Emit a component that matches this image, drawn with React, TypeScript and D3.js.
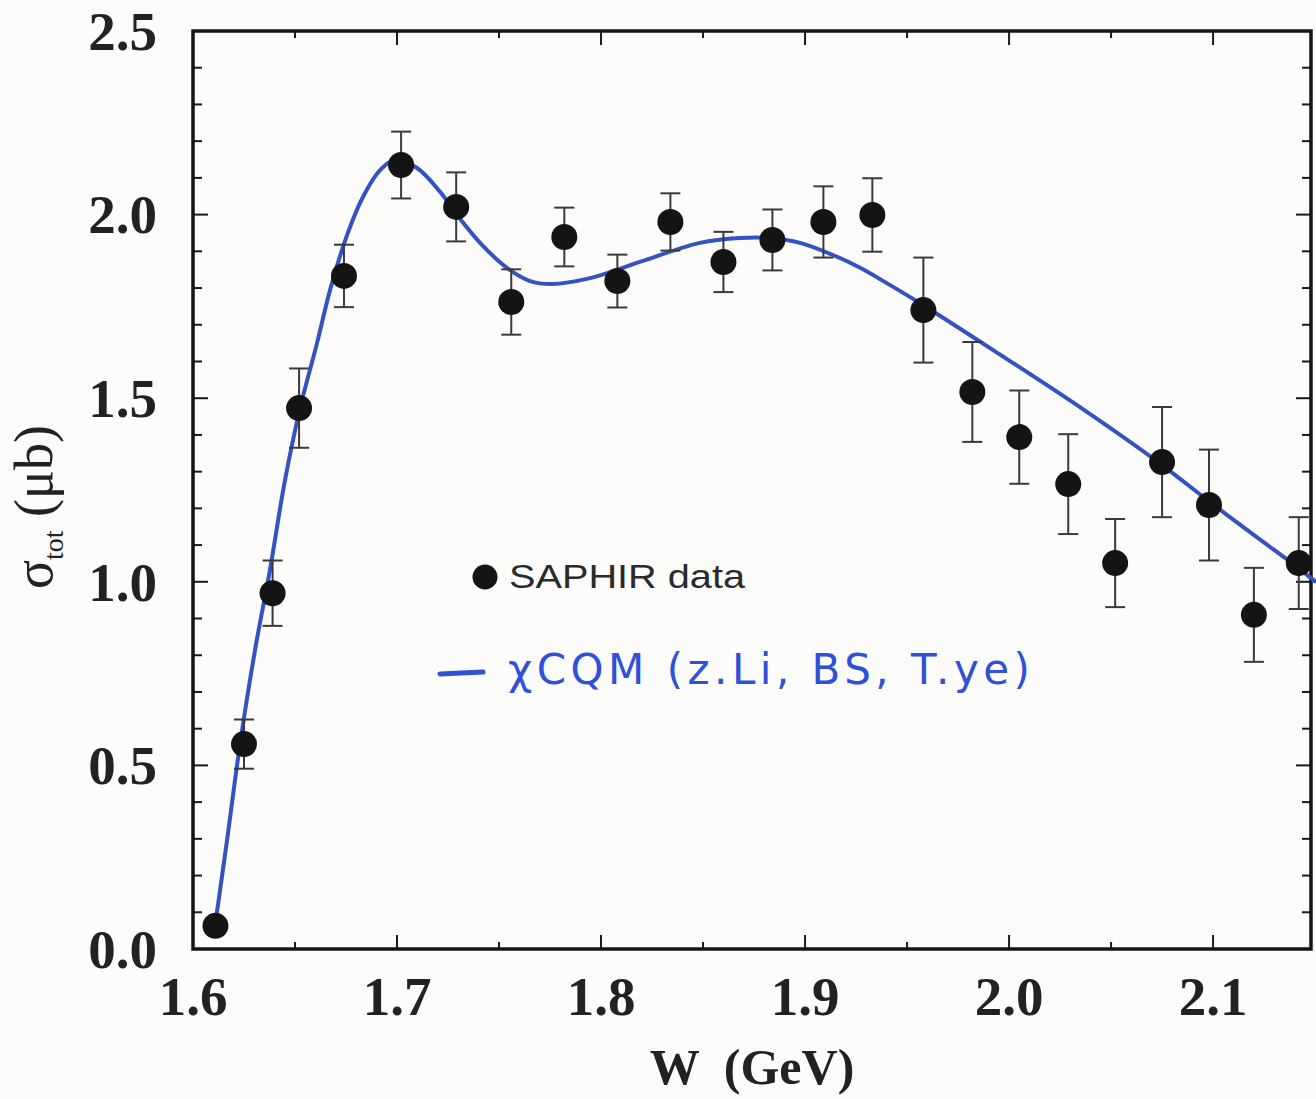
import { useRef, useEffect } from "react";
import * as d3 from "d3";

const WIDTH = 1316;
const HEIGHT = 1099;
const SERIF = "'Liberation Serif', 'Times New Roman', serif";
const SANS = "'Liberation Sans', Arial, sans-serif";
const CURVE_COLOR = "#3552c2";
const INK_COLOR = "#2f50d8";

// SAPHIR measurements: W (GeV), sigma_tot (mub), symmetric error
const W_DATA = [
  1.611, 1.625, 1.639, 1.652, 1.674, 1.702, 1.729, 1.756, 1.782, 1.808, 1.834, 1.86,
  1.884, 1.909, 1.933, 1.958, 1.982, 2.005, 2.029, 2.052, 2.075, 2.098, 2.12, 2.142,
];
const SIGMA = [
  0.063, 0.558, 0.969, 1.473, 1.833, 2.135, 2.021, 1.762, 1.939, 1.819, 1.98, 1.871,
  1.931, 1.98, 1.999, 1.74, 1.517, 1.394, 1.266, 1.051, 1.326, 1.209, 0.91, 1.051,
];
const SIGMA_ERR = [
  0.02, 0.067, 0.089, 0.108, 0.085, 0.091, 0.094, 0.089, 0.08, 0.072, 0.078, 0.082,
  0.083, 0.097, 0.1, 0.143, 0.136, 0.127, 0.136, 0.12, 0.15, 0.151, 0.128, 0.125,
];

// model curve (XCQM)
const CURVE_W = [
  1.6108, 1.6167, 1.623, 1.6304, 1.6377, 1.6451, 1.6525, 1.6608, 1.6672, 1.6755, 1.6833,
  1.6917, 1.699, 1.7098, 1.7211, 1.7294, 1.7407, 1.7539, 1.7652, 1.776, 1.7946, 1.8191,
  1.8485, 1.8681, 1.8828, 1.8975, 1.9137, 1.927, 1.9417, 1.9578, 1.9922, 2.0333, 2.075,
  2.0971, 2.1201, 2.1417, 2.1505,
];
const CURVE_SIGMA = [
  0.063, 0.297, 0.556, 0.814, 1.032, 1.277, 1.473, 1.65, 1.795, 1.944, 2.048,
  2.121, 2.149, 2.127, 2.062, 1.999, 1.923, 1.855, 1.819, 1.811, 1.827, 1.871,
  1.923, 1.936, 1.936, 1.923, 1.89, 1.855, 1.808, 1.754, 1.631, 1.481, 1.318,
  1.223, 1.127, 1.038, 0.999,
];

const X_TICKS = [1.6, 1.7, 1.8, 1.9, 2.0, 2.1];
const Y_TICKS = [0, 0.5, 1.0, 1.5, 2.0, 2.5];

export default function App() {
  const svgRef = useRef<SVGSVGElement>(null);

  useEffect(() => {
    const svg = svgRef.current;
    if (!svg) return;
    const root = d3.select(svg);
    root.selectAll("*").remove();

    const left = 193, right = 1311, top = 31, bottom = 949;
    const x = d3.scaleLinear().domain([1.6, 2.148]).range([left, right]);
    const y = d3.scaleLinear().domain([0, 2.5]).range([bottom, top]);

    root.append("rect").attr("width", WIDTH).attr("height", HEIGHT).attr("fill", "#fcfcfa");

    // frame ticks (inward), minor every 0.05 on x, 0.1 on y
    const ticks = root.append("g").attr("stroke", "#1a1a1a").attr("stroke-width", 2);
    const xMinor = d3.range(1.65, 2.148, 0.05);
    for (const t of xMinor) {
      const major = Math.abs(Math.round(t * 10) - t * 10) < 1e-6;
      const len = major ? 14 : 7;
      ticks.append("line").attr("x1", x(t)).attr("x2", x(t)).attr("y1", bottom).attr("y2", bottom - len);
      ticks.append("line").attr("x1", x(t)).attr("x2", x(t)).attr("y1", top).attr("y2", top + len);
    }
    const yMinor = d3.range(0.1, 2.5, 0.1);
    for (const t of yMinor) {
      const major = Math.abs(Math.round(t * 2) - t * 2) < 1e-6;
      const len = major ? 15 : 9;
      ticks.append("line").attr("x1", left).attr("x2", left + len).attr("y1", y(t)).attr("y2", y(t));
      ticks.append("line").attr("x1", right).attr("x2", right - len).attr("y1", y(t)).attr("y2", y(t));
    }

    // frame
    root.append("rect")
      .attr("x", left)
      .attr("y", top)
      .attr("width", right - left)
      .attr("height", bottom - top)
      .attr("fill", "none")
      .attr("stroke", "#151515")
      .attr("stroke-width", 3.5);

    // tick labels
    for (const t of Y_TICKS) {
      root.append("text")
        .attr("x", 157)
        .attr("y", y(t))
        .attr("dy", "0.34em")
        .attr("text-anchor", "end")
        .attr("font-family", SERIF)
        .attr("font-weight", "bold")
        .attr("font-size", 55)
        .attr("fill", "#222")
        .text(t.toFixed(1));
    }
    for (const t of X_TICKS) {
      root.append("text")
        .attr("x", x(t))
        .attr("y", 1015)
        .attr("text-anchor", "middle")
        .attr("font-family", SERIF)
        .attr("font-weight", "bold")
        .attr("font-size", 55)
        .attr("fill", "#222")
        .text(t.toFixed(1));
    }

    // axis titles
    root.append("text")
      .attr("x", 752)
      .attr("y", 1084)
      .attr("text-anchor", "middle")
      .attr("font-family", SERIF)
      .attr("font-weight", "bold")
      .attr("font-size", 50)
      .attr("fill", "#222")
      .style("white-space", "pre")
      .text("W  (GeV)");

    const yt = root.append("text")
      .attr("transform", "translate(52,507) rotate(-90)")
      .attr("text-anchor", "middle")
      .attr("font-family", SERIF)
      .attr("font-size", 54)
      .attr("fill", "#222")
      .style("white-space", "pre");
    yt.append("tspan").text("σ");
    yt.append("tspan").attr("font-size", 28).attr("dy", 11).text("tot");
    yt.append("tspan").attr("dy", -11).text(" (μb)");

    // model curve
    const curvePts: [number, number][] = CURVE_W.map((w, i) => [w, CURVE_SIGMA[i]]);
    const line = d3.line<[number, number]>()
      .x((d) => x(d[0]))
      .y((d) => y(d[1]))
      .curve(d3.curveCatmullRom.alpha(0.5));
    root.append("path")
      .datum(curvePts)
      .attr("d", line)
      .attr("fill", "none")
      .attr("stroke", CURVE_COLOR)
      .attr("stroke-width", 4);

    // error bars
    const eb = root.append("g").attr("stroke", "#3a3a3a").attr("stroke-width", 2);
    W_DATA.forEach((w, i) => {
      const cx = x(w);
      const y0 = y(SIGMA[i] - SIGMA_ERR[i]);
      const y1 = y(SIGMA[i] + SIGMA_ERR[i]);
      eb.append("line").attr("x1", cx).attr("x2", cx).attr("y1", y0).attr("y2", y1);
      eb.append("line").attr("x1", cx - 10).attr("x2", cx + 10).attr("y1", y0).attr("y2", y0);
      eb.append("line").attr("x1", cx - 10).attr("x2", cx + 10).attr("y1", y1).attr("y2", y1);
    });

    // data points
    W_DATA.forEach((w, i) => {
      root.append("circle")
        .attr("cx", x(w))
        .attr("cy", y(SIGMA[i]))
        .attr("r", 13)
        .attr("fill", "#141414");
    });

    // legend
    root.append("circle").attr("cx", 485).attr("cy", 577).attr("r", 12.5).attr("fill", "#141414");
    root.append("text")
      .attr("x", 509)
      .attr("y", 588)
      .attr("font-family", SANS)
      .attr("font-size", 33)
      .attr("fill", "#2a2a2a")
      .attr("textLength", 236)
      .attr("lengthAdjust", "spacingAndGlyphs")
      .text("SAPHIR data");

    // handwritten annotation
    root.append("line")
      .attr("x1", 440).attr("x2", 483)
      .attr("y1", 674).attr("y2", 672)
      .attr("stroke", INK_COLOR)
      .attr("stroke-width", 5)
      .attr("stroke-linecap", "round");
    root.append("text")
      .attr("x", 508)
      .attr("y", 684)
      .attr("font-family", "'DejaVu Sans', sans-serif")
      .attr("font-size", 42)
      .attr("fill", INK_COLOR)
      .attr("textLength", 522)
      .attr("lengthAdjust", "spacing")
      .text("χCQM (z.Li, BS, T.ye)");
  }, []);

  return (
    <svg
      ref={svgRef}
      width={WIDTH}
      height={HEIGHT}
      style={{ position: "absolute", left: 0, top: 0 }}
    />
  );
}
